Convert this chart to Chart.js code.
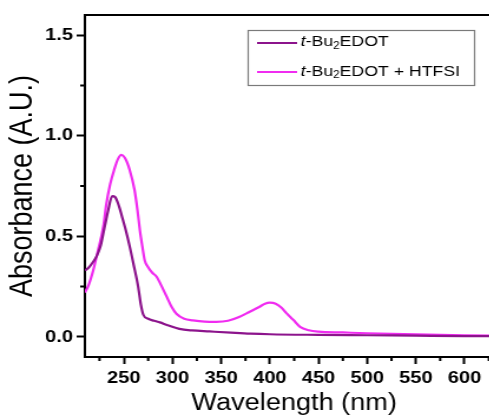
<!DOCTYPE html>
<html><head><meta charset="utf-8">
<script src="https://cdn.jsdelivr.net/npm/chart.js@4"></script>
<style>
html,body{margin:0;padding:0;overflow:hidden;background:#fff;width:489px;height:416px}
canvas{display:block}
</style></head>
<body>
<canvas id="c" width="430" height="416" style="width:507.4px;height:416px"></canvas>
<script>
// ---- data ----
const seriesLabels = ['t-Bu\u2082EDOT', 't-Bu\u2082EDOT + HTFSI'];
const wlDark  = [210, 214, 218, 222, 226, 230, 234, 238, 241, 245, 248, 252, 256, 260, 264.7, 267.5, 270, 275, 281, 287, 295, 307, 320, 338, 360, 380, 400, 450, 500, 550, 600, 640];
const absDark = [0.33, 0.345, 0.37, 0.40, 0.45, 0.54, 0.63, 0.70, 0.695, 0.65, 0.60, 0.53, 0.45, 0.36, 0.25, 0.16, 0.11, 0.09, 0.08, 0.072, 0.058, 0.040, 0.032, 0.027, 0.021, 0.016, 0.013, 0.010, 0.008, 0.006, 0.004, 0.003];
const wlLight  = [210, 214, 218.5, 223, 229, 232, 236, 240, 244, 247.5, 251, 256, 261, 264, 266.5, 269, 271.5, 274.5, 279, 283.5, 288, 294, 299, 304, 312, 321, 333, 345, 357, 369, 379, 389.5, 395, 400, 406, 412, 417, 424, 431, 440, 450, 475, 500, 550, 600, 640];
const absLight = [0.22, 0.26, 0.33, 0.42, 0.55, 0.66, 0.76, 0.83, 0.885, 0.905, 0.89, 0.83, 0.73, 0.63, 0.53, 0.45, 0.38, 0.35, 0.32, 0.30, 0.26, 0.20, 0.15, 0.115, 0.09, 0.082, 0.076, 0.075, 0.08, 0.10, 0.124, 0.15, 0.165, 0.17, 0.165, 0.145, 0.118, 0.085, 0.05, 0.033, 0.026, 0.022, 0.018, 0.012, 0.008, 0.006];
const xMajorTicks = [250, 300, 350, 400, 450, 500, 550, 600];
const xMinorTicks = [225, 275, 325, 375, 425, 475, 525, 575, 625];
const yMajorTicks = [0, 0.5, 1.0, 1.5];
const yMinorTicks = [0.25, 0.75, 1.25];
const xTitle = 'Wavelength (nm)';
const yTitle = 'Absorbance (A.U.)';

const darkColor = '#8c148c';
const lightColor = '#f02cf0';
const FONT = "'Liberation Sans', Arial, Helvetica, sans-serif";
Chart.defaults.font.family = FONT;
Chart.defaults.color = '#000';

const toPts = (xs, ys) => xs.map((x, i) => ({x, y: ys[i]}));

const framePlugin = {
  id: 'frameAndLegend',
  afterDraw(chart) {
    const ctx = chart.ctx;
    const {left, right, top, bottom} = chart.chartArea;
    const xs = chart.scales.x, ys = chart.scales.y;
    ctx.save();
    ctx.strokeStyle = '#000';
    ctx.lineWidth = 2;
    ctx.beginPath();
    ctx.moveTo(left - 1, top); ctx.lineTo(right + 1, top);
    ctx.moveTo(right, top); ctx.lineTo(right, bottom);
    xMinorTicks.forEach(v => { const p = xs.getPixelForValue(v); ctx.moveTo(p, bottom); ctx.lineTo(p, bottom + 4); });
    yMinorTicks.forEach(v => { const p = ys.getPixelForValue(v); ctx.moveTo(left, p); ctx.lineTo(left - 4, p); });
    ctx.stroke();

    // legend
    const bx = 210.5, by = 30.5, bw = 192, bh = 55;
    ctx.lineWidth = 1.2;
    ctx.strokeStyle = '#7a7a7a';
    ctx.strokeRect(bx, by, bw, bh);
    const rows = [{y: 42, ly: 43, color: darkColor, rest: 'EDOT'}, {y: 71.5, ly: 72, color: lightColor, rest: 'EDOT + HTFSI'}];
    rows.forEach((r, i) => {
      ctx.strokeStyle = r.color;
      ctx.lineWidth = 2.2;
      ctx.beginPath(); ctx.moveTo(218, r.ly); ctx.lineTo(252, r.ly); ctx.stroke();
      ctx.fillStyle = '#000';
      ctx.textBaseline = 'middle';
      ctx.textAlign = 'left';
      let x = 255;
      ctx.font = 'italic 15px ' + FONT;
      ctx.fillText('t', x, r.y); x += ctx.measureText('t').width;
      ctx.font = '15px ' + FONT;
      ctx.fillText('-Bu', x, r.y); x += ctx.measureText('-Bu').width;
      ctx.font = '10px ' + FONT;
      ctx.fillText('2', x, r.y + 4); x += ctx.measureText('2').width;
      ctx.font = '15px ' + FONT;
      ctx.fillText(r.rest, x, r.y);
    });
    ctx.restore();
  }
};

new Chart(document.getElementById('c'), {
  type: 'line',
  data: {
    datasets: [
      {label: seriesLabels[0], data: toPts(wlDark, absDark), borderColor: darkColor, borderWidth: 2.2, pointRadius: 0, cubicInterpolationMode: 'monotone', fill: false},
      {label: seriesLabels[1], data: toPts(wlLight, absLight), borderColor: lightColor, borderWidth: 2.2, pointRadius: 0, cubicInterpolationMode: 'monotone', fill: false}
    ]
  },
  options: {
    responsive: false,
    animation: false,
    devicePixelRatio: 1,
    events: [],
    layout: {padding: {left: 0, right: 3, top: 15, bottom: 0}},
    plugins: {legend: {display: false}, tooltip: {enabled: false}},
    scales: {
      x: {
        type: 'linear', min: 210, max: 640,
        afterFit: s => { s.height = 59; },
        afterBuildTicks: s => { s.ticks = xMajorTicks.map(v => ({value: v})); },
        ticks: {font: {size: 17, weight: 'bold'}, padding: 4, maxRotation: 0, autoSkip: false, callback: v => String(v)},
        grid: {drawOnChartArea: false, drawTicks: true, tickLength: 7, tickColor: '#000', tickWidth: 2},
        border: {display: true, color: '#000', width: 2},
        title: {display: true, text: xTitle, font: {size: 23, lineHeight: 1}, padding: {top: 0, bottom: 1}, color: '#000'}
      },
      y: {
        type: 'linear', min: -0.1, max: 1.6,
        afterFit: s => { s.width = 72; },
        afterBuildTicks: s => { s.ticks = yMajorTicks.map(v => ({value: v})); },
        ticks: {font: {size: 17, weight: 'bold'}, padding: 3, autoSkip: false, callback: v => Number(v).toFixed(1)},
        grid: {drawOnChartArea: false, drawTicks: true, tickLength: 7, tickColor: '#000', tickWidth: 2},
        border: {display: true, color: '#000', width: 2},
        title: {display: true, text: yTitle, font: {size: 27, lineHeight: 1}, padding: {top: 6, bottom: 0}, color: '#000'}
      }
    }
  },
  plugins: [framePlugin]
});
</script>
</body></html>
